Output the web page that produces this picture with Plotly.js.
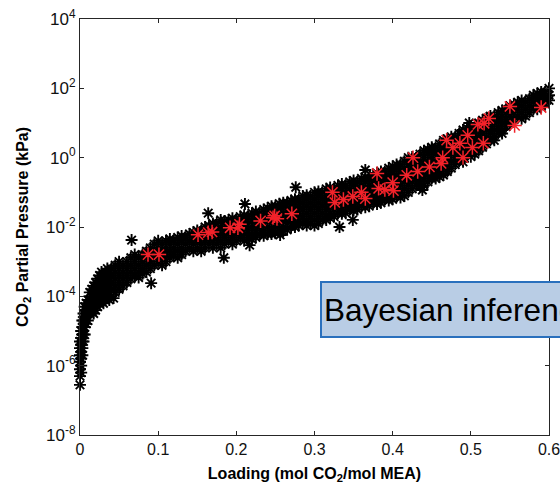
<!DOCTYPE html>
<html><head><meta charset="utf-8">
<script src="https://cdn.plot.ly/plotly-3.0.1.min.js"></script>
<style>html,body{margin:0;padding:0;background:#fff;overflow:hidden}#chart{width:560px;height:484px}</style>
</head><body><div id="chart"></div>
<script>
// Dense cloud of model samples (black asterisks), read column by column
const columnLoading = [
  0.000,0.0015,0.003,0.0045,0.006,0.008,0.010,0.0125,0.015,0.0175,0.020,0.0225,0.025,0.0275,0.030,0.0325,0.035,0.0375,
  0.040,0.045,0.050,0.055,0.060,0.065,0.070,0.075,0.080,0.085,0.090,0.095,0.100,0.105,0.110,0.115,0.120,0.125,
  0.130,0.135,0.140,0.145,0.150,0.155,0.160,0.165,0.170,0.175,0.180,0.185,0.190,0.195,0.200,0.205,0.210,0.215,
  0.220,0.225,0.230,0.235,0.240,0.245,0.250,0.255,0.260,0.265,0.270,0.275,0.280,0.285,0.290,0.295,0.300,0.305,
  0.310,0.315,0.320,0.325,0.330,0.335,0.340,0.345,0.350,0.355,0.360,0.365,0.370,0.375,0.380,0.385,0.390,0.395,
  0.400,0.405,0.410,0.415,0.420,0.425,0.430,0.435,0.440,0.445,0.450,0.455,0.460,0.465,0.470,0.475,0.480,0.485,
  0.490,0.495,0.500,0.505,0.510,0.515,0.520,0.525,0.530,0.535,0.540,0.545,0.550,0.555,0.560,0.565,0.570,0.575,
  0.580,0.585,0.590,0.595,0.600
];
const columnPressure = [
  [5.0e-6,3.2e-6,2.0e-6,1.3e-6,7.9e-7,5.0e-7],
  [1.0e-5,6.3e-6,4.0e-6,2.5e-6,1.6e-6,1.0e-6,6.3e-7],
  [2.0e-5,1.3e-5,7.9e-6,5.0e-6,3.2e-6,2.0e-6],
  [3.2e-5,2.0e-5,1.3e-5,7.9e-6,5.0e-6],
  [5.0e-5,3.2e-5,2.0e-5,1.3e-5,7.9e-6],
  [6.3e-5,4.0e-5,2.5e-5,1.6e-5],
  [7.9e-5,5.0e-5,3.2e-5,2.0e-5],
  [1.3e-4,7.9e-5,5.0e-5,3.2e-5],
  [1.6e-4,1.0e-4,6.3e-5,4.0e-5],
  [2.0e-4,1.3e-4,7.9e-5,5.0e-5,3.2e-5],
  [2.5e-4,1.6e-4,1.0e-4,6.3e-5,4.0e-5],
  [3.2e-4,2.0e-4,1.3e-4,7.9e-5,5.0e-5],
  [4.0e-4,2.5e-4,1.6e-4,1.0e-4,6.3e-5],
  [5.0e-4,3.2e-4,2.0e-4,1.3e-4,7.9e-5],
  [4.0e-4,2.5e-4,1.6e-4,1.0e-4,6.3e-5],
  [5.0e-4,3.2e-4,2.0e-4,1.3e-4,7.9e-5],
  [6.3e-4,4.0e-4,2.5e-4,1.6e-4,1.0e-4],
  [5.0e-4,3.2e-4,2.0e-4,1.3e-4,7.9e-5],
  [6.3e-4,4.0e-4,2.5e-4,1.6e-4,1.0e-4],
  [7.9e-4,5.0e-4,3.2e-4,2.0e-4,1.3e-4],
  [1.0e-3,6.3e-4,4.0e-4,2.5e-4,1.6e-4],
  [7.9e-4,5.0e-4,3.2e-4,2.0e-4],
  [1.0e-3,6.3e-4,4.0e-4,2.5e-4],
  [1.3e-3,7.9e-4,5.0e-4,3.2e-4],
  [1.6e-3,1.0e-3,6.3e-4,4.0e-4],
  [1.3e-3,7.9e-4,5.0e-4,3.5e-4],
  [1.6e-3,1.0e-3,6.3e-4,4.5e-4],
  [2.0e-3,1.3e-3,7.9e-4,5.0e-4],
  [2.5e-3,1.6e-3,1.0e-3,6.3e-4],
  [3.2e-3,2.0e-3,1.3e-3,7.9e-4],
  [4.0e-3,2.5e-3,1.6e-3,1.0e-3],
  [3.2e-3,2.0e-3,1.3e-3,7.9e-4],
  [4.0e-3,2.5e-3,1.6e-3,1.0e-3],
  [4.5e-3,3.2e-3,2.0e-3,1.3e-3],
  [4.0e-3,2.5e-3,1.6e-3],
  [5.0e-3,3.2e-3,2.0e-3,1.3e-3],
  [5.5e-3,4.0e-3,2.5e-3,1.6e-3],
  [5.0e-3,3.2e-3,2.0e-3],
  [6.3e-3,4.0e-3,2.5e-3],
  [7.0e-3,5.0e-3,3.2e-3,2.0e-3],
  [7.9e-3,6.3e-3,4.0e-3,2.5e-3],
  [7.9e-3,5.0e-3,3.2e-3,2.0e-3],
  [1.0e-2,6.3e-3,4.0e-3,2.5e-3],
  [1.1e-2,7.9e-3,5.0e-3,3.2e-3],
  [1.26e-2,1.0e-2,6.3e-3,4.0e-3,2.5e-3],
  [1.3e-2,7.9e-3,5.0e-3,3.2e-3],
  [1.6e-2,1.0e-2,6.3e-3,4.0e-3,2.5e-3],
  [1.5e-2,1.3e-2,7.9e-3,5.0e-3,3.2e-3],
  [1.6e-2,1.0e-2,6.3e-3,4.0e-3],
  [1.8e-2,1.3e-2,7.9e-3,5.0e-3,3.2e-3],
  [1.6e-2,1.0e-2,6.3e-3,4.0e-3],
  [2.0e-2,1.3e-2,7.9e-3,5.0e-3],
  [2.2e-2,1.6e-2,1.0e-2,6.3e-3,4.0e-3],
  [2.0e-2,1.3e-2,7.9e-3,5.0e-3],
  [2.5e-2,1.6e-2,1.0e-2,6.3e-3,4.5e-3],
  [2.8e-2,2.0e-2,1.3e-2,7.9e-3,5.0e-3],
  [2.5e-2,1.6e-2,1.0e-2,6.3e-3],
  [3.2e-2,2.0e-2,1.3e-2,7.9e-3,5.6e-3],
  [3.5e-2,2.5e-2,1.6e-2,1.0e-2,6.3e-3],
  [4.0e-2,3.2e-2,2.0e-2,1.3e-2,7.9e-3,6.3e-3],
  [4.0e-2,2.5e-2,1.6e-2,1.0e-2,6.6e-3],
  [4.7e-2,3.2e-2,2.0e-2,1.3e-2,7.9e-3],
  [5.0e-2,4.0e-2,2.5e-2,1.6e-2,1.0e-2,7.6e-3],
  [5.0e-2,3.2e-2,2.0e-2,1.3e-2,8.3e-3],
  [5.8e-2,4.0e-2,2.5e-2,1.6e-2,1.0e-2],
  [6.3e-2,5.0e-2,3.2e-2,2.0e-2,1.3e-2,1.0e-2],
  [6.3e-2,4.0e-2,2.5e-2,1.6e-2,1.1e-2],
  [7.9e-2,5.0e-2,3.2e-2,2.0e-2,1.3e-2],
  [8.3e-2,6.3e-2,4.0e-2,2.5e-2,1.6e-2,1.1e-2],
  [7.9e-2,5.0e-2,3.2e-2,2.0e-2,1.26e-2],
  [0.1,6.3e-2,4.0e-2,2.5e-2,1.6e-2,1.1e-2],
  [0.105,7.9e-2,5.0e-2,3.2e-2,2.0e-2,1.26e-2],
  [0.1,6.3e-2,4.0e-2,2.5e-2,1.6e-2],
  [0.126,7.9e-2,5.0e-2,3.2e-2,2.0e-2,1.6e-2],
  [0.138,0.1,6.3e-2,4.0e-2,2.5e-2,1.8e-2],
  [0.126,7.9e-2,5.0e-2,3.2e-2,2.0e-2],
  [0.158,0.1,6.3e-2,4.0e-2,2.5e-2],
  [0.174,0.126,7.9e-2,5.0e-2,3.2e-2,2.4e-2],
  [0.158,0.1,6.3e-2,4.0e-2,2.5e-2],
  [0.2,0.126,7.9e-2,5.0e-2,3.2e-2],
  [0.22,0.158,0.1,6.3e-2,4.0e-2,3.0e-2],
  [0.2,0.126,7.9e-2,5.0e-2,3.2e-2],
  [0.25,0.158,0.1,6.3e-2,4.0e-2],
  [0.275,0.2,0.126,7.9e-2,5.0e-2,3.7e-2],
  [0.25,0.158,0.1,6.3e-2,4.0e-2],
  [0.316,0.2,0.126,7.9e-2,5.0e-2],
  [0.36,0.25,0.158,0.1,6.3e-2,4.6e-2],
  [0.4,0.316,0.2,0.126,7.9e-2,5.0e-2],
  [0.4,0.25,0.158,0.1,6.3e-2],
  [0.5,0.316,0.2,0.126,7.9e-2,5.8e-2],
  [0.56,0.4,0.25,0.158,0.1,6.3e-2],
  [0.63,0.5,0.316,0.2,0.126,7.9e-2],
  [0.63,0.4,0.25,0.158,0.1,7.1e-2],
  [0.79,0.5,0.316,0.2,0.126,7.9e-2],
  [1.0,0.63,0.4,0.25,0.158,0.1],
  [1.05,0.79,0.5,0.316,0.2,0.126],
  [1.0,0.63,0.4,0.25,0.158],
  [1.26,0.79,0.5,0.316,0.2,0.15],
  [1.58,1.0,0.63,0.4,0.25,0.158],
  [1.74,1.26,0.79,0.5,0.316,0.2],
  [2.0,1.58,1.0,0.63,0.4,0.25],
  [2.0,1.26,0.79,0.5,0.316,0.25],
  [2.5,1.58,1.0,0.63,0.4,0.28],
  [3.16,2.0,1.26,0.79,0.5,0.316],
  [3.5,2.5,1.58,1.0,0.63,0.4],
  [4.0,3.16,2.0,1.26,0.79,0.5],
  [3.98,2.5,1.58,1.0,0.63],
  [5.0,3.16,2.0,1.26,0.79],
  [6.3,3.98,2.5,1.58,1.0,0.76],
  [7.1,5.0,3.16,2.0,1.26],
  [8.1,6.3,3.98,2.5,1.58,1.07],
  [7.9,5.0,3.16,2.0,1.26],
  [10,6.3,3.98,2.5,1.58],
  [12,7.9,5.0,3.16,2.0],
  [13.8,10,6.3,3.98,2.5],
  [15.8,12.6,7.9,5.0,3.16],
  [15.8,10,6.3,3.98,3.16],
  [20,12.6,7.9,5.0],
  [22.9,15.8,10,6.3,5.0],
  [25,20,12.6,7.9],
  [31.6,25,15.8,10],
  [35,20,12.6],
  [39.8,25,15.8],
  [44.7,31.6,20,13.2],
  [39.8,25,15.8],
  [50,31.6,20],
  [63,39.8,25],
  [70.8,50,31.6,25],
  [79,63,39.8,30],
  [79,50,36],
  [100,63,45]
];
// Isolated black samples away from the band
const strayLoading  = [0.000,0.066,0.091,0.043,0.164,0.184,0.211,0.276,0.365,0.332,0.349,0.498,0.438,0.217,0.256];
const strayPressure = [2.8e-7,4.2e-3,2.4e-4,8.9e-5,2.5e-2,1.3e-3,4.6e-2,0.14,0.44,1.0e-2,1.6e-2,10,0.117,3.0e-3,5.9e-3];
// Experimental points (red asterisks)
const redLoading  = [0.087,0.101,0.151,0.164,0.169,0.192,0.202,0.204,0.231,0.247,0.249,0.252,0.271,0.323,0.326,0.337,0.349,0.360,0.365,0.380,0.382,0.390,0.400,0.401,0.418,0.426,0.432,0.447,0.462,0.464,0.469,0.477,0.486,0.490,0.496,0.502,0.509,0.516,0.517,0.523,0.550,0.556,0.590];
const redPressure = [1.6e-3,1.6e-3,6.0e-3,6.9e-3,7.2e-3,9.5e-3,9.5e-3,1.2e-2,1.5e-2,1.86e-2,2.1e-2,1.74e-2,2.4e-2,0.1,5.1e-2,6.2e-2,7.6e-2,0.1,6.6e-2,0.35,0.13,0.12,0.19,0.112,0.31,1.0,0.40,0.54,0.68,1.0,3.2,1.95,2.6,1.0,4.4,1.95,9.1,2.6,9.8,13.5,30,8.5,28];
// Axis ticks and texts
const yTickValues = [1e-8,1e-6,1e-4,1e-2,1e0,1e2,1e4];
const yTickLabels = ['10<sup>-8</sup>','10<sup>-6</sup>','10<sup>-4</sup>','10<sup>-2</sup>','10<sup>0</sup>','10<sup>2</sup>','10<sup>4</sup>'];
const xTickValues = [0,0.1,0.2,0.3,0.4,0.5,0.6];
const xTickLabels = ['0','0.1','0.2','0.3','0.4','0.5','0.6'];
const xTitle = 'Loading (mol CO<sub>2</sub>/mol MEA)';
const yTitle = 'CO<sub>2</sub> Partial Pressure (kPa)';
const noteText = 'Bayesian inference';

const bandX = [], bandY = [];
columnLoading.forEach((x, i) => columnPressure[i].forEach(p => { bandX.push(x); bandY.push(p); }));
strayLoading.forEach((x, i) => { bandX.push(x); bandY.push(strayPressure[i]); });

const FONT = 'Arial, "Liberation Sans", Helvetica, sans-serif';
const traces = [
  {x: bandX, y: bandY, type: 'scatter', mode: 'markers', cliponaxis: false, hoverinfo: 'skip',
   marker: {symbol: 'asterisk-open', size: 10, color: '#000', line: {color: '#000', width: 1.9}}},
  {x: redLoading, y: redPressure, type: 'scatter', mode: 'markers', cliponaxis: false, hoverinfo: 'skip',
   marker: {symbol: 'asterisk-open', size: 12, color: '#f2222a', line: {color: '#f2222a', width: 1.5}}}
];
const axisCommon = {showline: true, linecolor: '#262626', linewidth: 1, mirror: 'ticks', ticks: 'inside',
  ticklen: 4, tickwidth: 1, tickcolor: '#262626', showgrid: false, zeroline: false, ticklabeloverflow: 'allow'};
const layout = {
  width: 560, height: 484, showlegend: false,
  margin: {l: 80, r: 11, t: 19, b: 49, pad: 0},
  paper_bgcolor: '#fff', plot_bgcolor: '#fff',
  xaxis: Object.assign({}, axisCommon, {range: [0, 0.6], tickmode: 'array', tickvals: xTickValues, ticktext: xTickLabels,
    tickfont: {family: FONT, size: 16, color: '#111'},
    title: {text: xTitle, standoff: 10, font: {family: FONT, size: 16, color: '#000', weight: 'bold'}}}),
  yaxis: Object.assign({}, axisCommon, {type: 'log', range: [-8, 4], tickmode: 'array', tickvals: yTickValues, ticktext: yTickLabels,
    tickfont: {family: FONT, size: 17, color: '#111'},
    title: {text: yTitle, standoff: 13, font: {family: FONT, size: 16, color: '#000', weight: 'bold'}}}),
  annotations: [{
    xref: 'paper', yref: 'paper', x: 0.5117, y: 0.3017, xanchor: 'left', yanchor: 'middle',
    text: noteText, showarrow: false, align: 'left', height: 49,
    font: {family: FONT, size: 31.5, color: '#000'},
    bgcolor: '#b9cde5', bordercolor: '#2a70bd', borderwidth: 2, borderpad: 2
  }]
};
Plotly.newPlot('chart', traces, layout, {staticPlot: true, displayModeBar: false});
</script>
</body></html>
